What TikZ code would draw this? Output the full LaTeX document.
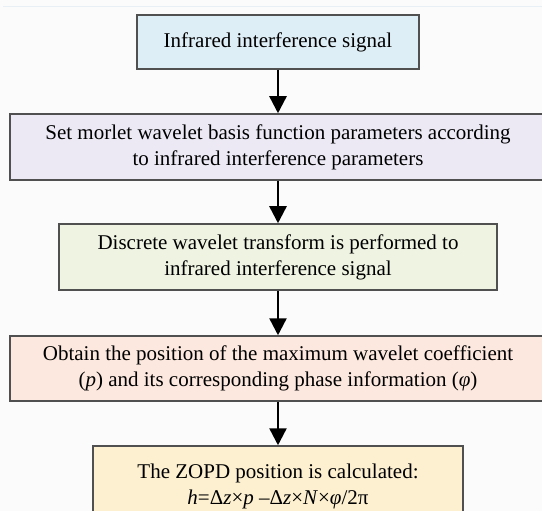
\documentclass[tikz,border=0pt]{standalone}
\usepackage{fontspec}
\setmainfont{Liberation Serif}
\usetikzlibrary{arrows.meta}
\definecolor{bgc}{RGB}{251,251,251}
\definecolor{edgec}{RGB}{80,80,80}
\definecolor{c1}{RGB}{222,238,246}
\definecolor{c2}{RGB}{236,233,245}
\definecolor{c3}{RGB}{238,243,226}
\definecolor{c4}{RGB}{252,232,222}
\definecolor{c5}{RGB}{253,240,208}
\definecolor{toplinec}{RGB}{232,240,245}
\tikzset{
  flowbox/.style={draw=edgec, line width=1.5pt, rectangle, align=center, inner sep=0pt,
    font=\fontsize{21}{26}\selectfont},
  flowarrow/.style={draw=black, line width=2.4pt, -{Triangle[width=17pt,length=17pt]}}
}
\begin{document}
\begin{tikzpicture}[x=1pt,y=1pt]
\useasboundingbox (0,0) rectangle (542,-511);
\clip (0,0) rectangle (542,-511);
\fill[bgc] (0,0) rectangle (542,-511);
\draw[toplinec, line width=1pt] (3,-7) -- (542,-7);
\node[flowbox, fill=c1, minimum width=282pt, minimum height=54pt] (b1) at (278,-42) {Infrared interference signal};
\node[flowbox, fill=c2, minimum width=536pt, minimum height=66pt] (b2) at (278,-147) {Set morlet wavelet basis function parameters according\\to infrared interference parameters};
\node[flowbox, fill=c3, minimum width=438pt, minimum height=66pt] (b3) at (278,-257) {Discrete wavelet transform is performed to\\infrared interference signal};
\node[flowbox, fill=c4, minimum width=536pt, minimum height=65pt] (b4) at (278,-368.5) {Obtain the position of the maximum wavelet coefficient\\(\textit{p}) and its corresponding phase information (\textit{φ})};
\node[flowbox, fill=c5, minimum width=370pt, minimum height=80pt] (b5) at (278,-486) {The ZOPD position is calculated:\\\textit{h}=Δ\textit{z}×\textit{p} –Δ\textit{z}×\textit{N}×\textit{φ}/2π};
\draw[flowarrow] (b1.south) -- (b2.north);
\draw[flowarrow] (b2.south) -- (b3.north);
\draw[flowarrow] (b3.south) -- (b4.north);
\draw[flowarrow] (b4.south) -- (b5.north);
\end{tikzpicture}
\end{document}
